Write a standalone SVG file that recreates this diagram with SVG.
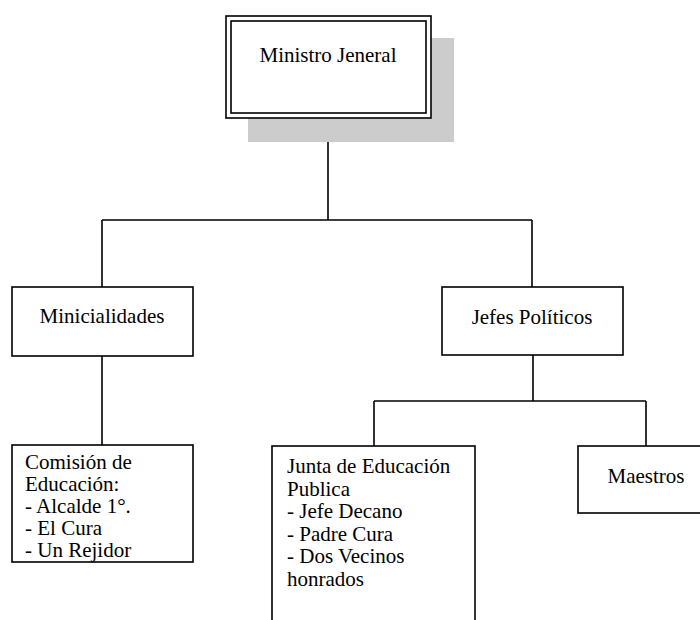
<svg xmlns="http://www.w3.org/2000/svg" width="700" height="620" viewBox="0 0 700 620">
<style>
.box{fill:#fff;stroke:#000;stroke-width:1.6}
.ln{fill:none;stroke:#000;stroke-width:1.6}
.t{font-family:'Liberation Serif','Times New Roman',serif;font-size:21px;fill:#000}
.c{text-anchor:middle}
</style>
<rect width="700" height="620" fill="#fff"/>
<g id="connectors">
<path class="ln" d="M328,118 V220 M102,220 H532 M102,220 V287 M532,220 V287"/>
<path class="ln" d="M102,356 V445"/>
<path class="ln" d="M533,355 V401 M374,401 H646 M374,401 V446 M646,401 V446"/>
</g>
<g id="ministro">
<rect x="248" y="38" width="206" height="104" fill="#cccccc"/>
<rect class="box" x="226" y="16" width="205" height="102"/>
<rect class="box" x="231" y="21" width="195" height="92"/>
<text class="t c" x="328" y="62">Ministro Jeneral</text>
</g>
<g id="minicialidades">
<rect class="box" x="12" y="287" width="181" height="69"/>
<text class="t c" x="102" y="323">Minicialidades</text>
</g>
<g id="jefes">
<rect class="box" x="442" y="287" width="181" height="68"/>
<text class="t c" x="532" y="324">Jefes Políticos</text>
</g>
<g id="comision" class="t">
<rect class="box" x="12" y="445" width="181" height="117"/>
<text x="25" y="469">Comisión de</text>
<text x="25" y="491">Educación:</text>
<text x="25" y="513">- Alcalde 1°.</text>
<text x="25" y="535">- El Cura</text>
<text x="25" y="557">- Un Rejidor</text>
</g>
<g id="junta" class="t">
<rect class="box" x="272" y="446" width="203" height="190"/>
<text x="287" y="473">Junta de Educación</text>
<text x="287" y="495.5">Publica</text>
<text x="287" y="518">- Jefe Decano</text>
<text x="287" y="540.5">- Padre Cura</text>
<text x="287" y="563">- Dos Vecinos</text>
<text x="287" y="585.5">honrados</text>
</g>
<g id="maestros">
<rect class="box" x="578" y="446" width="136" height="67"/>
<text class="t c" x="646" y="483">Maestros</text>
</g>
</svg>
